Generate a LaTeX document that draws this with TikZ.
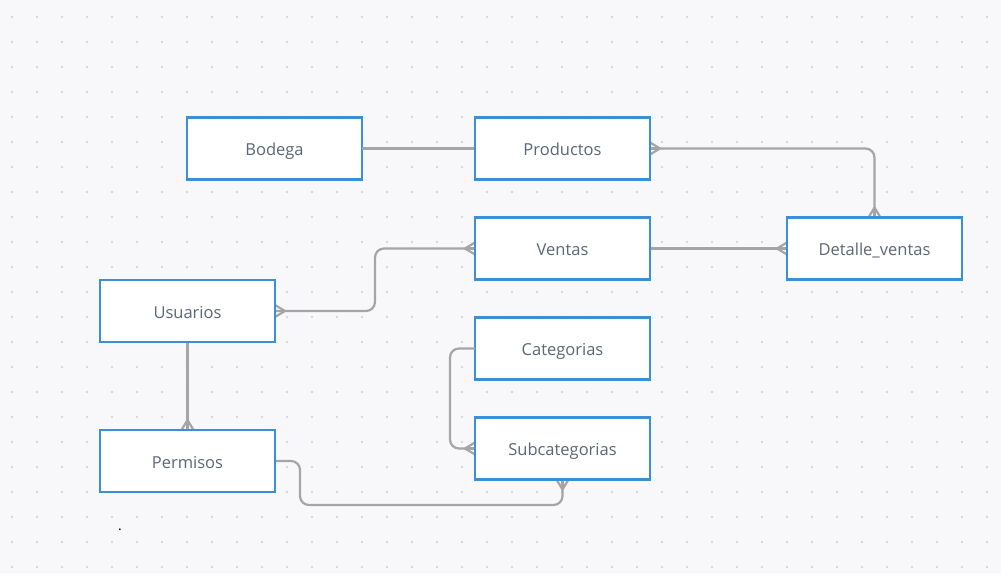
\documentclass[tikz,border=0pt]{standalone}
\usepackage{fontspec}
\setmainfont{Open Sans}
\usetikzlibrary{calc}
\definecolor{bgc}{RGB}{248,248,250}
\definecolor{dotc}{RGB}{214,214,218}
\definecolor{boxc}{RGB}{58,143,215}
\definecolor{linec}{RGB}{165,165,168}
\definecolor{txtc}{RGB}{92,102,116}
\tikzset{
  entity/.style={draw=boxc, line width=2.4pt, fill=white, minimum width=175pt, minimum height=62pt,
    inner sep=0pt, outer sep=0pt, text=txtc, text height=14pt, text depth=0pt,
    font=\fontsize{16.5}{19}\selectfont},
  conn/.style={draw=linec, line width=2.2pt, rounded corners=9pt},
  foot/.style={draw=linec, line width=2.2pt},
}
\newcommand\crowfoot[3]{% point, outward dx, outward dy
  \draw[foot] ($(#1)+(10*#2,10*#3)$) -- ($(#1)+(6*#3,6*#2)$);
  \draw[foot] ($(#1)+(10*#2,10*#3)$) -- ($(#1)+(-6*#3,-6*#2)$);
  \draw[foot] ($(#1)+(10*#2,10*#3)$) -- (#1);
}
\begin{document}
\begin{tikzpicture}[x=1pt,y=-1pt]
\fill[bgc] (0,0) rectangle (1001,574);
\useasboundingbox (0,0) rectangle (1001,574);
\foreach \i in {0,...,39}{\foreach \j in {0,...,22}{
  \fill[dotc] (12+25*\i,17+25*\j) circle (1.3pt);}}
% entities
\node[entity] (bod) at (274.5,148.5) {Bodega};
\node[entity] (prod) at (562.5,148.5) {Productos};
\node[entity] (ven) at (562.5,248.5) {Ventas};
\node[entity] (det) at (874.5,248.5) {Detalle\_ventas};
\node[entity] (usu) at (187.5,311) {Usuarios};
\node[entity] (cat) at (562.5,348.5) {Categorias};
\node[entity] (sub) at (562.5,448.5) {Subcategorias};
\node[entity] (per) at (187.5,461) {Permisos};
\node[inner sep=0pt, text=black, font=\fontsize{14}{16}\selectfont] (pt) at (120,530) {.};
% connectors
\draw[conn] (bod.east) -- (prod.west);
\draw[conn] (prod.east) -| (det.north);
\draw[conn] (ven.east) -- (det.west);
\draw[conn] (usu.east) -- ++(100,0) |- (ven.west);
\draw[conn] (usu.south) -- (per.north);
\draw[conn] (cat.west) -- ++(-25,0) |- (sub.west);
\draw[conn] (per.east) -- ++(25,0) -- ++(0,44) -| (sub.south);
% crow's feet
\crowfoot{prod.east}{1}{0}
\crowfoot{det.north}{0}{-1}
\crowfoot{det.west}{-1}{0}
\crowfoot{ven.west}{-1}{0}
\crowfoot{usu.east}{1}{0}
\crowfoot{per.north}{0}{-1}
\crowfoot{sub.west}{-1}{0}
\crowfoot{sub.south}{0}{1}
% redraw borders over feet
\foreach \n in {prod,det,ven,usu,per,sub}{\draw[boxc, line width=2.4pt] (\n.south west) rectangle (\n.north east);}
\end{tikzpicture}
\end{document}
